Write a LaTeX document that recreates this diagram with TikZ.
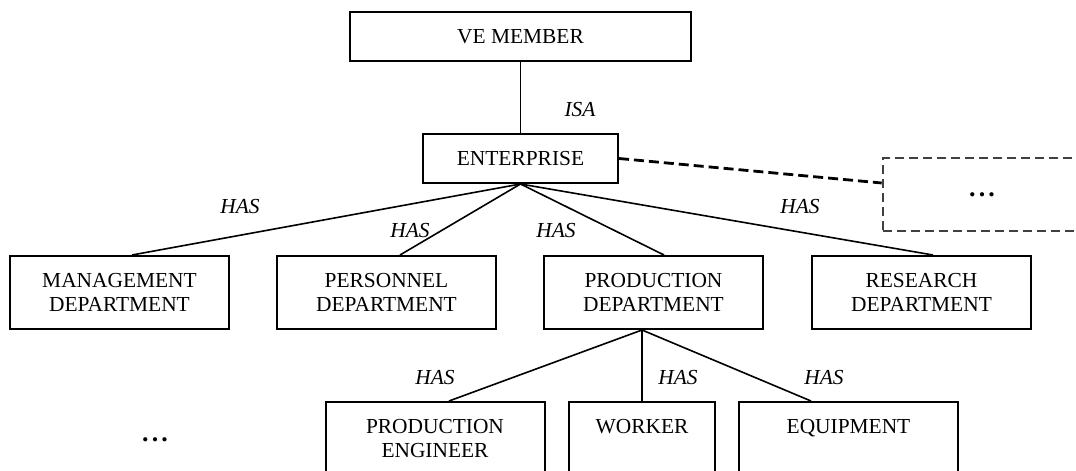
\documentclass[tikz,border=0pt]{standalone}
\usepackage{fontspec}
\setmainfont{Liberation Serif}
\usetikzlibrary{positioning}
\definecolor{dashgray}{RGB}{64,64,64}

\begin{document}
\begin{tikzpicture}[x=0.5pt, y=-0.5pt, line width=0.8pt,
  box/.style={shape=rectangle,draw,align=center,inner sep=0pt,line width=1pt,
    font=\fontsize{10.7}{12.3}\selectfont},
  dept/.style={box,minimum width=109.5pt,minimum height=36.5pt},
  rel/.style={font=\fontsize{10.7}{12.3}\selectfont\itshape},
  dots/.style={font=\fontsize{13}{13}\selectfont\bfseries}]
\useasboundingbox (0,0) rectangle (1076,471);

\node[box,minimum width=170.5pt,minimum height=24.5pt] (member) at (520.5,36.5) {VE MEMBER};
\node[box,minimum width=97.5pt,minimum height=24.5pt] (enterprise) at (520.5,158.5) {ENTERPRISE};
\node[box,draw=dashgray,line width=1.3pt,dash pattern=on 4.5pt off 2.5pt,
  minimum width=99pt,minimum height=36.5pt] (others) at (982,194.5)
  {\fontsize{13}{13}\selectfont\bfseries .\kern1.6pt.\kern1.6pt.};

\node[dept] (management) at (119.5,292.5) {MANAGEMENT\\DEPARTMENT};
\node[dept] (personnel) at (386.5,292.5) {PERSONNEL\\DEPARTMENT};
\node[dept] (production) at (653.5,292.5) {PRODUCTION\\DEPARTMENT};
\node[dept] (research) at (921.5,292.5) {RESEARCH\\DEPARTMENT};

\node[dept] (engineer) at (435,438.5) {PRODUCTION\\ENGINEER};
\node[dept,minimum width=73pt] (worker) at (642,438.5) {WORKER\\\mbox{}};
\node[dept] (equipment) at (848.5,438.5) {EQUIPMENT\\\mbox{}};
\node[dots] (moredots) at (155,440) {.\kern1.6pt.\kern1.6pt.};

\draw (member) -- (enterprise);
\node[rel] (isa) at (580,110) {ISA};
\draw[line width=1.4pt,dash pattern=on 5pt off 2.5pt] (enterprise.east) -- ([yshift=5.75pt]others.west);

\draw (enterprise.south) -- ([xshift=6.25pt]management.north);
\draw (enterprise.south) -- ([xshift=6.75pt]personnel.north);
\draw (enterprise.south) -- ([xshift=5.25pt]production.north);
\draw (enterprise.south) -- ([xshift=5.75pt]research.north);
\node[rel] (has1) at (240,207) {HAS};
\node[rel] (has2) at (410,231) {HAS};
\node[rel] (has3) at (556,231) {HAS};
\node[rel] (has4) at (800,207) {HAS};

\draw ([xshift=-5.75pt]production.south) -- ([xshift=7pt]engineer.north);
\draw ([xshift=-5.75pt]production.south) -- (worker.north);
\draw ([xshift=-5.75pt]production.south) -- ([xshift=-18.75pt]equipment.north);
\node[rel] (has5) at (435,378) {HAS};
\node[rel] (has6) at (678,378) {HAS};
\node[rel] (has7) at (824,378) {HAS};
\end{tikzpicture}
\end{document}
